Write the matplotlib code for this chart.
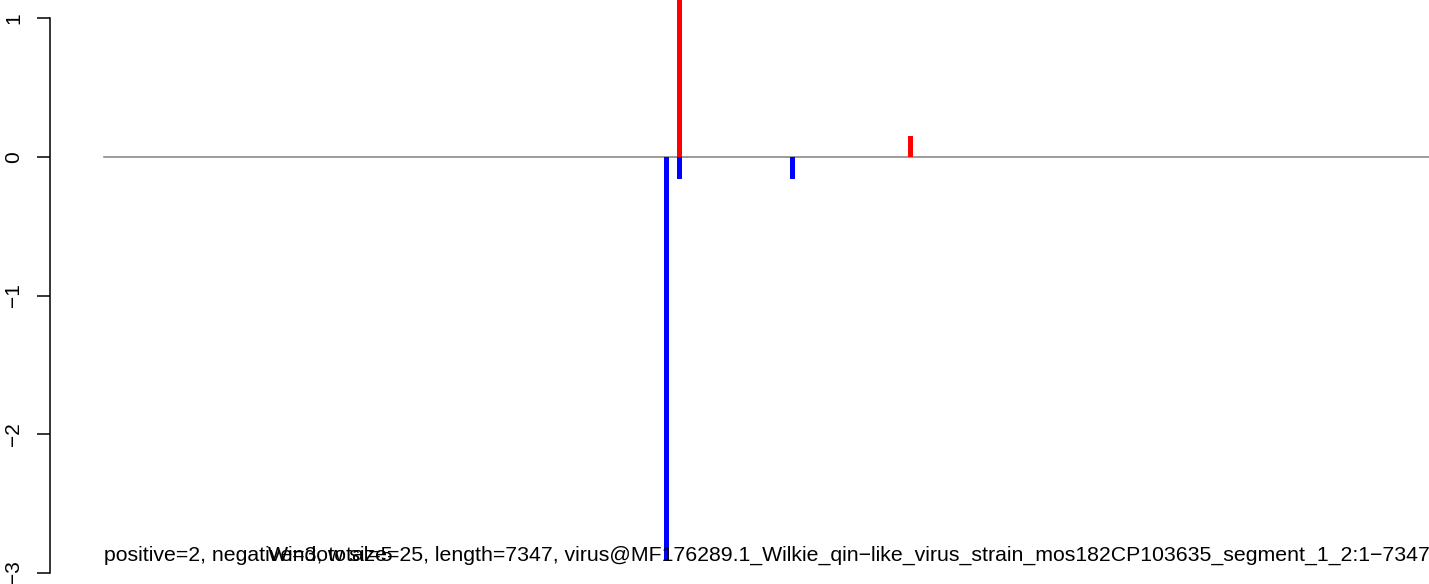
import matplotlib
matplotlib.use("Agg")
import matplotlib.pyplot as plt

# ---- data ----
pos_x = [3164, 4434]
pos_y = [2.0, 0.155]
neg_x = [3095, 3164, 3785]
neg_y = [-2.92, -0.16, -0.16]
seq_length = 7347
y_ticks = [1, 0, -1, -2, -3]
summary_text = "positive=2, negative=3, total=5"
title_text = ("Window size=25, length=7347, virus@MF176289.1_Wilkie_qin\u2212like_virus_strain_"
              "mos182CP103635_segment_1_2:1\u22127347")

plt.rcParams['font.family'] = ['Liberation Sans', 'DejaVu Sans']

W, H = 1429, 584
fig = plt.figure(figsize=(W / 100, H / 100), dpi=100)
ax_left_px = 50
ax = fig.add_axes([ax_left_px / W, 0, (W - ax_left_px) / W, 1])

# pixel mapping
px_per_unit_y = 138.5
zero_px = 157
ax.set_ylim(-(H - zero_px) / px_per_unit_y, zero_px / px_per_unit_y)
sx = (1440 - 104) / (seq_length - 1)
x0_px = 104
ax.set_xlim((ax_left_px - x0_px) / sx + 1, (W - x0_px) / sx + 1)

bar_w = 5 / sx
ax.plot([1, seq_length], [0, 0], color='#808080', lw=1.1, zorder=1)
ax.bar(pos_x, pos_y, width=bar_w, color='#FF0000', zorder=2, linewidth=0)
ax.bar(neg_x, neg_y, width=bar_w, color='#0000FF', zorder=2, linewidth=0)

for s in ['top', 'right', 'bottom']:
    ax.spines[s].set_visible(False)
ax.spines['left'].set_bounds(-3, 1)
ax.spines['left'].set_linewidth(1.1)
ax.set_yticks(y_ticks)
ax.set_yticklabels([f"{t}".replace('-', '\u2212') for t in y_ticks], rotation=90, va='center', fontsize=15)
ax.tick_params(axis='y', length=9.5, width=1.1, pad=10)
ax.set_xticks([])

y_txt = -(561 - zero_px) / px_per_unit_y
ax.text(1, y_txt, summary_text, ha='left', va='baseline', fontsize=15.3)
ax.text((W + 1 - x0_px) / sx + 1, y_txt, title_text, ha='right', va='baseline', fontsize=15.3)

fig.savefig("out.png", dpi=100)
